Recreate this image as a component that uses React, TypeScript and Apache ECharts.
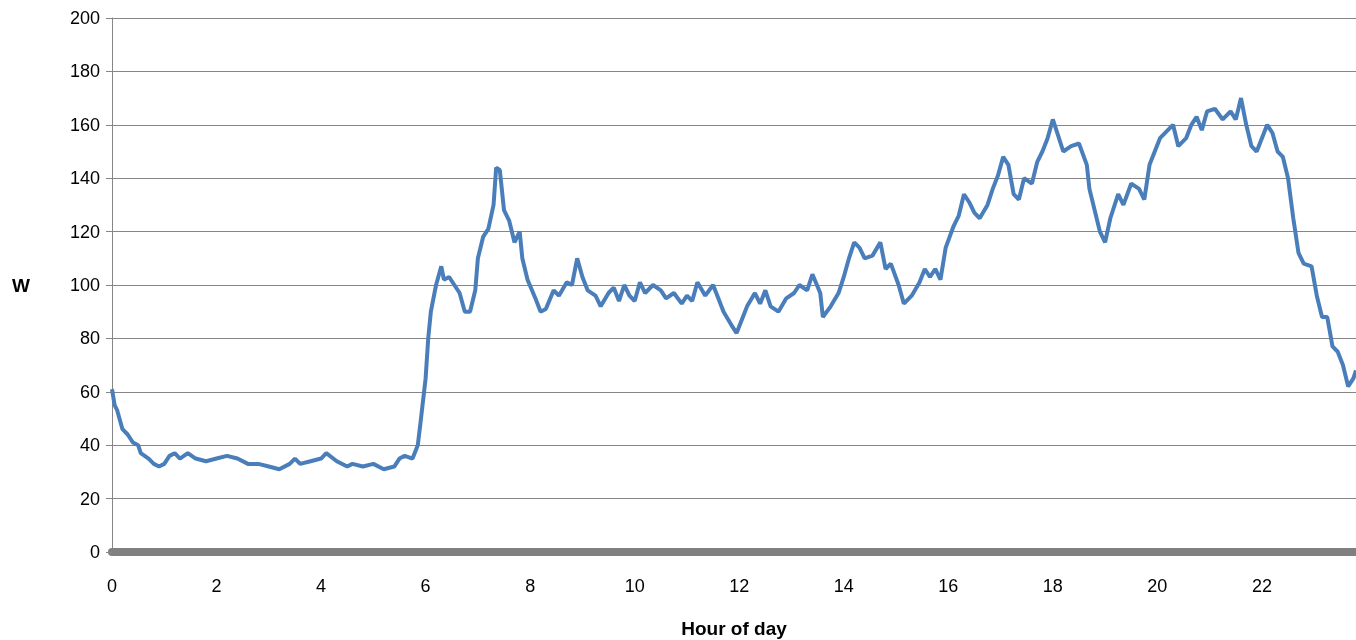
import React, { useRef, useEffect } from 'react';
import * as echarts from 'echarts';

// hour of day
const hours = [
  0, 0.05, 0.1, 0.2, 0.3, 0.4, 0.5, 0.55, 0.7, 0.8, 0.9, 1.0, 1.1, 1.2, 1.3, 1.45, 1.6, 1.8, 2.0, 2.2,
  2.4, 2.6, 2.8, 3.0, 3.2, 3.4, 3.5, 3.6, 3.8, 4.0, 4.1, 4.3, 4.5, 4.6, 4.8, 5.0, 5.2, 5.4, 5.5, 5.6,
  5.75, 5.85, 5.9, 6.0, 6.05, 6.1, 6.2, 6.3, 6.35, 6.45, 6.55, 6.65, 6.75, 6.85, 6.95, 7.0, 7.1, 7.2, 7.3, 7.35,
  7.42, 7.5, 7.6, 7.7, 7.8, 7.85, 7.95, 8.1, 8.2, 8.3, 8.45, 8.55, 8.7, 8.8, 8.9, 9.0, 9.1, 9.25, 9.35, 9.5,
  9.6, 9.7, 9.8, 9.9, 10.0, 10.1, 10.2, 10.35, 10.5, 10.6, 10.75, 10.9, 11.0, 11.1, 11.2, 11.35, 11.5, 11.6, 11.7, 11.85,
  11.95, 12.05, 12.15, 12.3, 12.4, 12.5, 12.6, 12.75, 12.9, 13.05, 13.15, 13.3, 13.4, 13.55, 13.6, 13.75, 13.9, 14.0, 14.1, 14.2,
  14.3, 14.4, 14.55, 14.7, 14.8, 14.9, 15.05, 15.15, 15.3, 15.45, 15.55, 15.65, 15.75, 15.85, 15.95, 16.1, 16.2, 16.3, 16.4, 16.5,
  16.6, 16.75, 16.85, 16.95, 17.05, 17.15, 17.25, 17.35, 17.45, 17.6, 17.7, 17.8, 17.9, 18.0, 18.1, 18.2, 18.35, 18.5, 18.65, 18.7,
  18.8, 18.9, 19.0, 19.1, 19.25, 19.35, 19.5, 19.65, 19.75, 19.85, 19.95, 20.05, 20.2, 20.3, 20.4, 20.55, 20.65, 20.75, 20.85, 20.95,
  21.1, 21.25, 21.4, 21.5, 21.6, 21.7, 21.8, 21.9, 22.0, 22.1, 22.2, 22.3, 22.4, 22.5, 22.6, 22.7, 22.8, 22.95, 23.05, 23.15,
  23.25, 23.35, 23.45, 23.55, 23.65, 23.75, 23.8,
];

// power, W
const watts = [
  61, 55, 53, 46, 44, 41, 40, 37, 35, 33, 32, 33, 36, 37, 35, 37, 35, 34, 35, 36,
  35, 33, 33, 32, 31, 33, 35, 33, 34, 35, 37, 34, 32, 33, 32, 33, 31, 32, 35, 36,
  35, 40, 48, 65, 80, 90, 100, 107, 102, 103, 100, 97, 90, 90, 98, 110, 118, 121, 130, 144,
  143, 128, 124, 116, 120, 110, 102, 95, 90, 91, 98, 96, 101, 100, 110, 103, 98, 96, 92, 97,
  99, 94, 100, 96, 94, 101, 97, 100, 98, 95, 97, 93, 96, 94, 101, 96, 100, 95, 90, 85,
  82, 87, 92, 97, 93, 98, 92, 90, 95, 97, 100, 98, 104, 97, 88, 92, 97, 103, 110, 116,
  114, 110, 111, 116, 106, 108, 100, 93, 96, 101, 106, 103, 106, 102, 114, 122, 126, 134, 131, 127,
  125, 130, 136, 141, 148, 145, 134, 132, 140, 138, 146, 150, 155, 162, 156, 150, 152, 153, 145, 136,
  128, 120, 116, 125, 134, 130, 138, 136, 132, 145, 150, 155, 158, 160, 152, 155, 160, 163, 158, 165,
  166, 162, 165, 162, 170, 160, 152, 150, 155, 160, 157, 150, 148, 140, 125, 112, 108, 107, 96, 88,
  88, 77, 75, 70, 62, 65, 68,
];

const FONT = 'Liberation Sans, Arial, sans-serif';

export default function App() {
  const ref = useRef<HTMLDivElement>(null);

  useEffect(() => {
    if (!ref.current) return;
    const chart = echarts.init(ref.current, null, { renderer: 'svg' });
    chart.setOption({
      animation: false,
      grid: { left: 112, right: 0, top: 18, bottom: 88, containLabel: false, outerBoundsMode: 'none' },
      xAxis: {
        type: 'value',
        min: 0,
        max: 23.8,
        interval: 2,
        name: 'Hour of day',
        nameLocation: 'middle',
        nameGap: 67,
        nameTextStyle: { fontFamily: FONT, fontSize: 19, fontWeight: 'bold', color: '#000' },
        axisLine: { lineStyle: { color: '#808080', width: 8 } },
        axisTick: { show: false },
        splitLine: { show: false },
        axisLabel: { showMaxLabel: false, fontFamily: FONT, fontSize: 18, color: '#000', margin: 25 },
      },
      yAxis: {
        type: 'value',
        min: 0,
        max: 200,
        interval: 20,
        name: 'W',
        nameLocation: 'middle',
        nameRotate: 0,
        nameGap: 82,
        nameTextStyle: { fontFamily: FONT, fontSize: 19, fontWeight: 'bold', color: '#000' },
        axisLine: { show: true, lineStyle: { color: '#868686', width: 1 } },
        axisTick: { show: true, length: 6, inside: false, lineStyle: { color: '#868686' } },
        splitLine: { lineStyle: { color: '#868686', width: 1 } },
        axisLabel: { fontFamily: FONT, fontSize: 18, color: '#000', margin: 12 },
      },
      series: [{
        type: 'line',
        data: hours.map((h, i) => [h, watts[i]]),
        showSymbol: false,
        lineStyle: { color: '#4a7ebb', width: 4 },
      }],
    });
    return () => chart.dispose();
  }, []);

  return <div ref={ref} style={{ position: 'fixed', left: 0, top: 0, width: 1356, height: 640 }} />;
}
